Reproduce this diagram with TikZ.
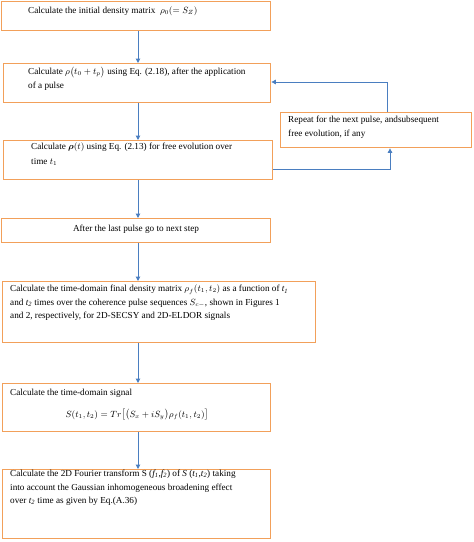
\documentclass[tikz,border=0pt]{standalone}
\usepackage{amsmath,bm}
\usepackage{fontspec}
\setmainfont{Liberation Serif}
\usetikzlibrary{arrows.meta}
\definecolor{boxorange}{RGB}{242,160,90}
\definecolor{arrowblue}{RGB}{74,126,192}
\begin{document}
\begin{tikzpicture}[x=1pt,y=-1pt,
  box/.style={draw=boxorange,line width=1.4pt,fill=white,inner sep=0pt},
  txt/.style={anchor=west,inner sep=0pt,font=\fontsize{9.2}{13.5}\selectfont,align=left},
  flow/.style={draw=arrowblue,line width=1pt,-{Triangle[width=4.5pt,length=4.5pt]}}]
\useasboundingbox (0,0) rectangle (474,542);
% boxes
\node[box,minimum width=269pt,minimum height=29pt,anchor=north west] (b1) at (1,0.5) {};
\node[box,minimum width=267pt,minimum height=39pt,anchor=north west] (b2) at (3,63) {};
\node[box,minimum width=269pt,minimum height=39pt,anchor=north west] (b3) at (3,140) {};
\node[box,minimum width=191pt,minimum height=35pt,anchor=north west] (b4) at (280,112) {};
\node[box,minimum width=269pt,minimum height=24pt,anchor=north west] (b5) at (1,218) {};
\node[box,minimum width=313pt,minimum height=61pt,anchor=north west] (b6) at (2,281) {};
\node[box,minimum width=268pt,minimum height=48pt,anchor=north west] (b7) at (2,383) {};
\node[box,minimum width=268pt,minimum height=69pt,anchor=north west] (b8) at (2,469) {};
% texts
\node[txt] (t1) at (28,11) {Calculate the initial density matrix\ \ $\rho_0(=S_Z)$};
\node[txt,anchor=north west] (t2) at (28,67) {Calculate $\rho\big(t_0+t_p\big)$ using Eq. (2.18), after the application\\of a pulse};
\node[txt,anchor=north west] (t3) at (31,143) {Calculate $\bm{\rho}(t)$ using Eq. (2.13) for free evolution over\\[1pt]time $t_1$};
\node[txt,anchor=north west] (t4) at (288,116) {Repeat for the next pulse, andsubsequent\\free evolution, if any};
\node[txt,anchor=center] (t5) at (136,229) {After the last pulse go to next step};
\node[txt,anchor=north west] (t6) at (10,285) {Calculate the time-domain final density matrix $\rho_f(t_1,t_2)$ as a function of \textit{t\textsubscript{1}}\\and \textit{t\textsubscript{2}} times over the coherence pulse sequences $S_{c-}$, shown in Figures 1\\and 2, respectively, for 2D-SECSY and 2D-ELDOR signals};
\node[txt] (t7) at (10,393) {Calculate the time-domain signal};
\node[txt,anchor=center] (t7b) at (137,415) {$S(t_1,t_2)=Tr\big[\big(S_x+iS_y\big)\rho_f(t_1,t_2)\big]$};
\node[txt,anchor=north west] (t8) at (10,470) {Calculate the 2D Fourier transform S (\textit{f\textsubscript{1}},\textit{f\textsubscript{2}}) of \textit{S} (\textit{t\textsubscript{1}},\textit{t\textsubscript{2}}) taking\\into account the Gaussian inhomogeneous broadening effect\\over \textit{t\textsubscript{2}} time as given by Eq.(A.36)};
% vertical connectors
\coordinate (ax) at (138,0);
\draw[flow] (b1.south -| ax) -- (b2.north -| ax);
\draw[flow] (b2.south -| ax) -- (b3.north -| ax);
\draw[flow] (b3.south -| ax) -- (b5.north -| ax);
\draw[flow] (b5.south -| ax) -- (b6.north -| ax);
\draw[flow] (b6.south -| ax) -- (b7.north -| ax);
\draw[flow] (b7.south -| ax) -- (b8.north -| ax);
% feedback loop
\coordinate (f1) at (390,169);
\coordinate (f2) at (387,82);
\draw[flow] (f1 -| b3.east) -- (f1) -- (f1 |- b4.south);
\draw[flow] (f2 |- b4.north) -- (f2) -- (f2 -| b2.east);
\end{tikzpicture}
\end{document}
